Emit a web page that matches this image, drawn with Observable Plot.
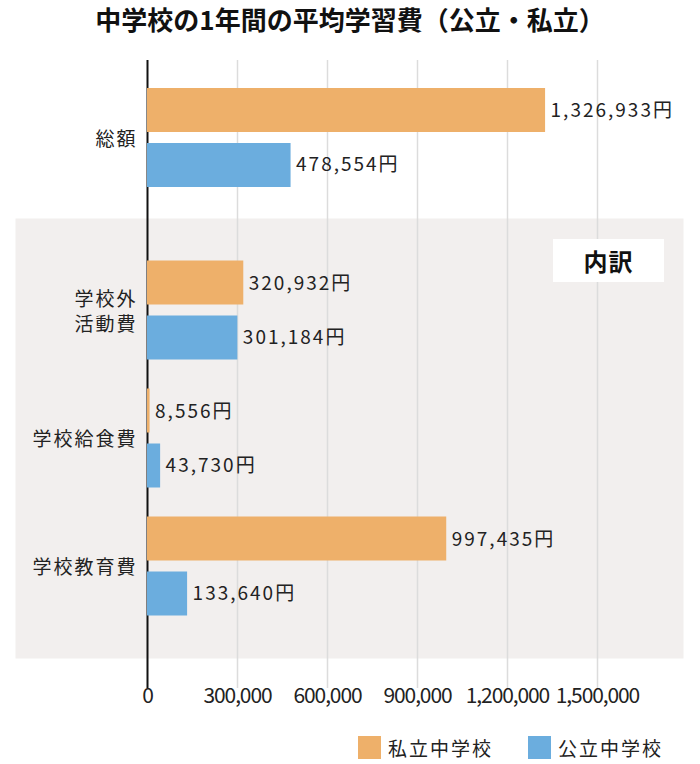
<!DOCTYPE html>
<html><head><meta charset="utf-8">
<script src="https://cdn.jsdelivr.net/npm/d3@7"></script>
<script src="https://cdn.jsdelivr.net/npm/@observablehq/plot@0.6"></script>
<style>
body{margin:0;background:#fff;font-family:"Noto Sans CJK JP",sans-serif;}
#wrap{position:relative;width:700px;height:764px;overflow:hidden;background:#fff;}
#title{position:absolute;left:0;top:2px;width:700px;text-align:center;font-size:26px;font-weight:700;line-height:34px;color:#111;white-space:nowrap;}
#p1{position:absolute;left:0;top:60px;}
#p2{position:absolute;left:0;top:218px;}
#uchiwake{position:absolute;left:553px;top:239px;width:111px;height:43px;background:#fff;font-size:24px;font-weight:700;text-align:center;line-height:43px;color:#111;letter-spacing:1px;}
.sw{position:absolute;top:736px;width:23px;height:23px;}
.lt{position:absolute;top:733px;font-size:19px;line-height:30px;letter-spacing:2px;color:#222;}
svg g[font-size="19"] text{letter-spacing:2px;}
svg g[font-size="21"] text{letter-spacing:-1.1px;}
</style>
</head><body>
<div id="wrap">
  <div id="title">中学校の1年間の平均学習費（公立・私立）</div>
  <div id="p1"></div>
  <div id="p2"></div>
  <div id="uchiwake">内訳</div>
  <div id="legend"></div>
</div>
<script>
const categories = ["総額", "学校外活動費", "学校給食費", "学校教育費"];
const categoryLabels = ["総額", "学校外\n活動費", "学校給食費", "学校教育費"];
const schools = ["私立中学校", "公立中学校"];
const privateValues = [1326933, 320932, 8556, 997435];
const publicValues = [478554, 301184, 43730, 133640];
const xTicks = [0, 300000, 600000, 900000, 1200000, 1500000];
const colors = ["#EEB06A", "#6BADDE"];

const rows = categories.flatMap((c, i) => [
  {cat: c, label: categoryLabels[i], school: schools[0], value: privateValues[i]},
  {cat: c, label: categoryLabels[i], school: schools[1], value: publicValues[i]}
]);
const fmt = d3.format(",");

function makePlot(cats, o) {
  const data = rows.filter(d => cats.includes(d.cat));
  const priv = data.filter(d => d.school === schools[0]);
  const pub = data.filter(d => d.school === schools[1]);
  const marks = [];
  if (o.panel) marks.push(Plot.frame({fill: "#F2EFEE", stroke: "none", insetLeft: -132, insetRight: 1, insetTop: -o.panelTop, insetBottom: -o.panelBottom}));
  marks.push(Plot.ruleX(xTicks.slice(1), {stroke: "#dcdcdc", strokeWidth: 1.5, insetTop: -o.extTop, insetBottom: -o.extBottom}));
  marks.push(Plot.ruleX([0], {stroke: "#111", strokeWidth: 2, insetTop: -o.extTop, insetBottom: -o.extBottom}));
  marks.push(Plot.barX(priv, {x: "value", y: "cat", fill: colors[0], insetBottom: 55}));
  marks.push(Plot.barX(pub, {x: "value", y: "cat", fill: colors[1], insetTop: 55}));
  marks.push(Plot.text(priv, {x: "value", y: "cat", text: d => fmt(d.value) + "円", dx: 5, dy: -27, textAnchor: "start", fontSize: 19, fill: "#222"}));
  marks.push(Plot.text(pub, {x: "value", y: "cat", text: d => fmt(d.value) + "円", dx: 5, dy: 27, textAnchor: "start", fontSize: 19, fill: "#222"}));
  marks.push(Plot.text(priv, {y: "cat", text: "label", frameAnchor: "left", dx: -10, textAnchor: "end", lineHeight: 1.3, fontSize: 19, fill: "#222"}));
  if (o.axis) marks.push(Plot.text(xTicks, {x: d => d, text: d => fmt(d), frameAnchor: "bottom", dy: 58, fontSize: 21, fill: "#222"}));
  return Plot.plot({
    width: 700, height: o.height,
    marginLeft: 147, marginRight: 16, marginTop: o.marginTop, marginBottom: o.marginBottom,
    x: {domain: [0, 1790000], axis: null},
    y: {type: "band", domain: cats, padding: o.padding, round: false, axis: null},
    style: {fontFamily: "'Noto Sans CJK JP', sans-serif", background: "transparent", overflow: "visible"},
    marks
  });
}

document.getElementById("p1").append(makePlot(["総額"], {
  height: 158, marginTop: 28, marginBottom: 31, padding: 0, extTop: 28, extBottom: 31
}));
document.getElementById("p2").append(makePlot(categories.slice(1), {
  height: 502, marginTop: 13.5, marginBottom: 75.5, padding: 0.2266,
  extTop: 13.5, extBottom: 43.5, panel: true, panelTop: 13.5, panelBottom: 13.5, axis: true
}));

// legend
const legend = document.getElementById("legend");
const legendPos = [[358, 388], [528, 558]];
schools.forEach((s, i) => {
  const sw = document.createElement("div");
  sw.className = "sw"; sw.style.left = legendPos[i][0] + "px"; sw.style.background = colors[i];
  const t = document.createElement("div");
  t.className = "lt"; t.style.left = legendPos[i][1] + "px"; t.textContent = s;
  legend.append(sw, t);
});
</script>
</body></html>
